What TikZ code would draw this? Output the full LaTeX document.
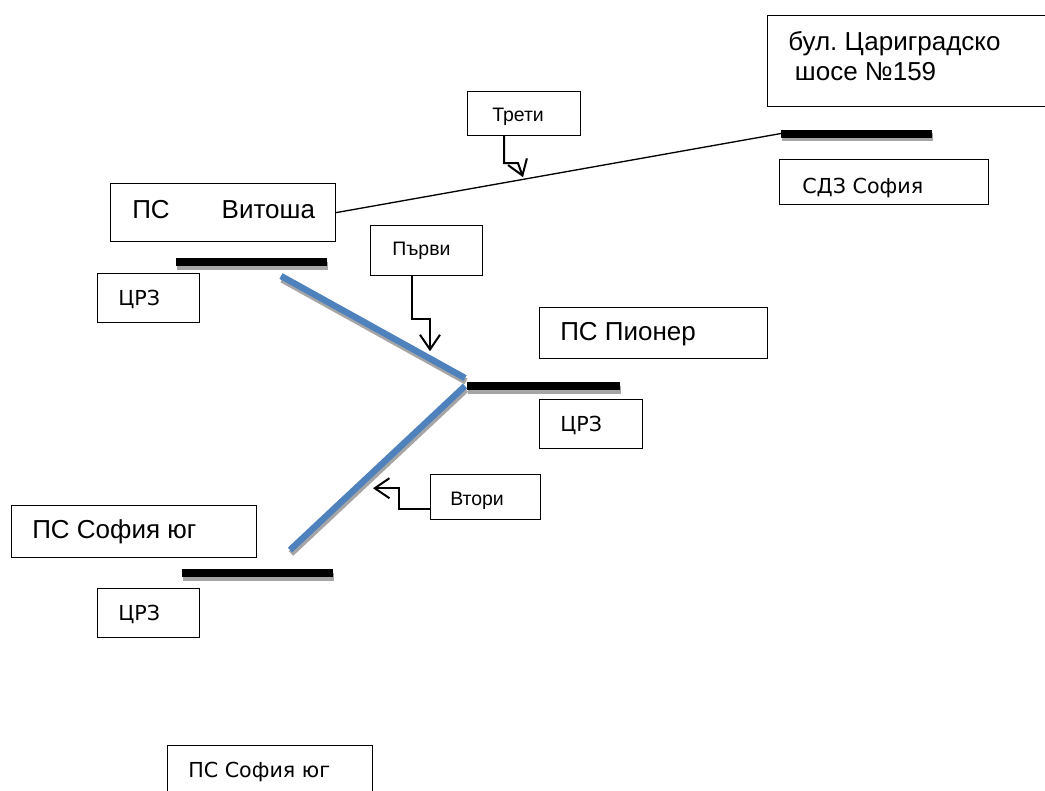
\documentclass[tikz,border=0pt]{standalone}
\usepackage{fontspec}
\setmainfont{Liberation Sans}
\newfontfamily\dvsans{DejaVu Sans}
\usepackage{tikz}
\usetikzlibrary{arrows.meta,calc}
\definecolor{lineblue}{RGB}{79,129,189}
\definecolor{shadowgray}{RGB}{165,165,165}
\frenchspacing

\begin{document}
\begin{tikzpicture}[x=0.75pt,y=-0.75pt,
    box/.style 2 args={draw,line width=0.9pt,anchor=north west,inner sep=0pt,minimum width=#1*0.75pt,minimum height=#2*0.75pt},
    big/.style={font=\fontsize{19.5}{22.5}\selectfont,anchor=base west,inner sep=0pt,align=left},
    small/.style={font=\fontsize{14.6}{17}\selectfont,anchor=base west,inner sep=0pt},
    verd/.style={font=\dvsans\fontsize{15.5}{18}\selectfont,anchor=base west,inner sep=0pt},
    busbar/.style={line width=6pt},
    feeder/.style={line width=4.8pt,lineblue},
    shade/.style={shadowgray,transform canvas={shift={(1,3.5)}}},
    pointer/.style={line width=1.5pt,-{Straight Barb[length=11pt,width=15pt]}}]
    \useasboundingbox (0,0) rectangle (1045,790);
    % кутии
    \node[box={300}{91}] (bul) at (767,15) {};
    \node[box={113}{44}] (tr) at (467,91) {};
    \node[box={225}{58}] (vit) at (110,183) {};
    \node[box={209}{45}] (sdz) at (779,159) {};
    \node[box={112}{50}] (par) at (370,225) {};
    \node[box={102}{49}] (crz1) at (97,273) {};
    \node[box={228}{51}] (pion) at (539,307) {};
    \node[box={103}{49}] (crz2) at (539,399) {};
    \node[box={110}{45}] (vt) at (430,474) {};
    \node[box={245}{52}] (yug) at (11,505) {};
    \node[box={102}{49}] (crz3) at (97,588) {};
    \node[box={205}{60}] (yug2) at (167,745) {}; %долу, отрязана
    % надписи
    \node[big] (bulT) at (788,80) {бул. Цариградско\\\hspace*{5pt}шосе №159}; %base = втори ред
    \node[small] (trT) at (492,121) {Трети};
    \node[big] (vitT) at (132,218) {ПС\hspace{39pt}Витоша};
    \node[verd] (sdzT) at (802,193) {СДЗ София};
    \node[small] (parT) at (392,255) {Първи};
    \node[verd] (crz1T) at (118,305) {ЦРЗ};
    \node[big] (pionT) at (560,340) {ПС Пионер};
    \node[verd] (crz2T) at (560,431) {ЦРЗ};
    \node[small] (vtT) at (450,505) {Втори};
    \node[big] (yugT) at (32,538) {ПС София юг};
    \node[verd] (crz3T) at (118,620) {ЦРЗ};
    \node[verd] (yug2T) at (188,777) {ПС София юг};
    % шини
    \coordinate (sdzL) at (781,133.5); \coordinate (sdzR) at (932,133.5);
    \coordinate (vitL) at (176,262); \coordinate (vitR) at (327,262);
    \coordinate (pionL) at (467,386); \coordinate (pionR) at (620,386);
    \coordinate (yugL) at (182,573); \coordinate (yugR) at (333,573);
    \foreach \b in {sdz,vit,pion,yug}{
        \draw[busbar,shade] (\b L) -- (\b R);
        \draw[busbar] (\b L) -- (\b R);
    }
    % изводи
    \coordinate (f1a) at (281,276); \coordinate (f1b) at (465,378);
    \coordinate (f2a) at (465,386); \coordinate (f2b) at (290,550);
    \draw[feeder,shade] (f1a) -- (f1b);
    \draw[feeder] (f1a) -- (f1b); %Първи
    \draw[feeder,shade] (f2a) -- (f2b);
    \draw[feeder] (f2a) -- (f2b); %Втори
    \draw[line width=1pt] (vit.east) -- (sdzL); %Трети
    % стрелки
    \draw[pointer] ($(tr.south west)+(37,0)$) -- ++(0,27) -- ++(14,0) -- ++(5,14);
    \draw[pointer] ($(par.south west)+(42,0)$) -- ++(0,43) -- ++(18,0) -- ++(0,32);
    \draw[pointer] ($(vt.south west)+(0,-11)$) -- ++(-31,0) -- ++(0,-21) -- ++(-26,0);
\end{tikzpicture}
\end{document}
